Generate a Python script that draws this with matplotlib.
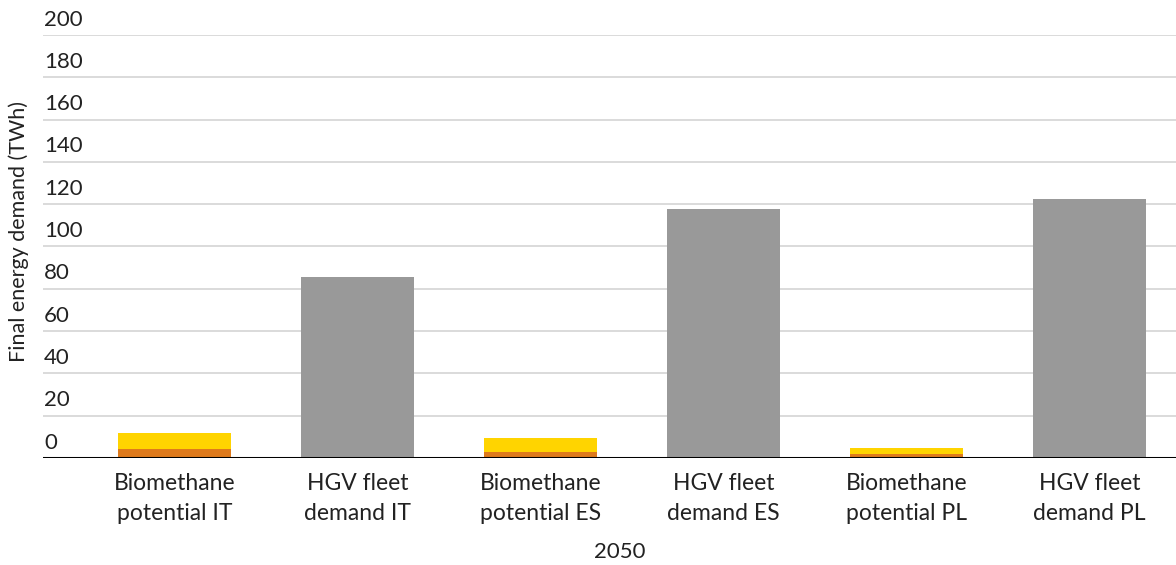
import matplotlib.pyplot as plt
import matplotlib.transforms as mtransforms
import numpy as np

plt.rcParams['font.family'] = ['Lato', 'DejaVu Sans']

# data (TWh)
categories = ['Biomethane\npotential IT', 'HGV fleet\ndemand IT',
              'Biomethane\npotential ES', 'HGV fleet\ndemand ES',
              'Biomethane\npotential PL', 'HGV fleet\ndemand PL']
bio_lower = [4.3, 0, 2.8, 0, 2.0, 0]     # orange part
bio_upper = [7.5, 0, 6.8, 0, 2.9, 0]     # yellow part
hgv_demand = [0, 85.6, 0, 117.7, 0, 122.5]
y_ticks = [0, 20, 40, 60, 80, 100, 120, 140, 160, 180, 200]

fig = plt.figure(figsize=(11.76, 5.65), dpi=100)
ax = fig.add_axes([43 / 1176, 1 - 458 / 565, 1 - 43 / 1176, (458 - 35) / 565])

x = np.arange(len(categories))
w = 0.617
ax.bar(x, bio_lower, w, color='#DE7A1C', zorder=3)
ax.bar(x, bio_upper, w, bottom=bio_lower, color='#FFD400', zorder=3)
ax.bar(x, hgv_demand, w, color='#999999', zorder=3)

ax.set_xlim(-0.7186, 5.473)
ax.set_ylim(0, 200)

# gridlines and labels sitting above them
for t in y_ticks[1:]:
    ax.axhline(t, color='#D4D4D4', lw=1.2, zorder=1)
trans = mtransforms.blended_transform_factory(ax.transAxes, ax.transData)
for t in y_ticks:
    ax.text(0.001, t + 2.6, str(t), transform=trans, ha='left', va='bottom',
            fontsize=16, color='#222222')
ax.axhline(0, color='black', lw=2.2, zorder=4)

for s in ax.spines.values():
    s.set_visible(False)
ax.set_yticks([])
ax.set_xticks(x)
ax.set_xticklabels(categories, fontsize=16.5, color='#222222', linespacing=1.5)
ax.tick_params(axis='x', length=0, pad=11)

fig.text(620 / 1176, 1 - 552 / 565, '2050', ha='center', va='center',
         fontsize=16, color='#222222')
fig.text(19 / 1176, 1 - 232 / 565, 'Final energy demand (TWh)', rotation=90,
         ha='center', va='center', fontsize=15.5, color='#222222')

plt.savefig('out.png', dpi=100)
